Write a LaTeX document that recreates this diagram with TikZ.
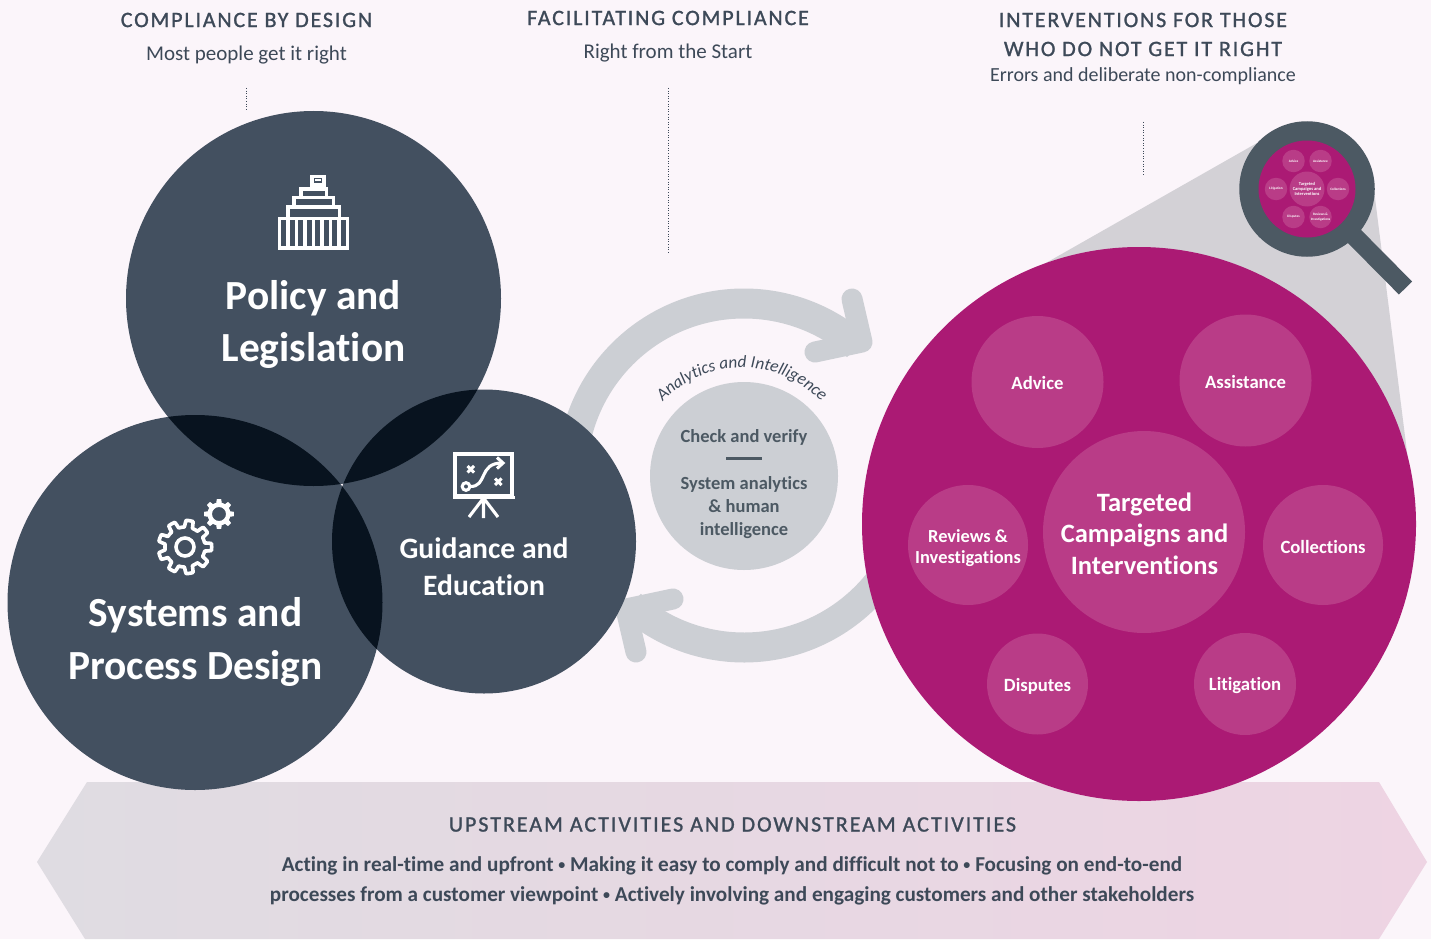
\documentclass[tikz,border=0pt]{standalone}
\usepackage{fontspec}
\setmainfont[Ligatures=NoCommon]{Carlito}
\usetikzlibrary{decorations.text}
\definecolor{bgc}{HTML}{FBF5FA}
\definecolor{slatec}{HTML}{435060}
\definecolor{darkc}{HTML}{08131F}
\definecolor{magc}{HTML}{AB1A74}
\definecolor{subc}{HTML}{B93C87}
\definecolor{ringc}{HTML}{CCCFD4}
\definecolor{conec}{HTML}{D3D1D6}
\definecolor{lensc}{HTML}{4C5963}
\definecolor{inkc}{HTML}{3D4958}
\definecolor{banl}{HTML}{DFDCE2}
\definecolor{banr}{HTML}{EED4E3}
\newcommand{\fs}[1]{\fontsize{#1}{#1}\selectfont}
\newcommand{\spaced}{\addfontfeature{LetterSpace=8.3,FakeBold=1.2}}
\newcommand{\bul}{\raisebox{1.6pt}{\fs{14}•}}
\tikzset{
  x=1pt,y=-1pt,
  disc/.style={circle,inner sep=0pt,minimum size=#1},
  darkdisc/.style={disc=#1,fill=slatec},
  subdisc/.style={disc=#1,fill=subc},
  minidisc/.style={disc=#1,fill=subc,text=white,font=\bfseries\fontsize{3.4}{4.2}\selectfont,align=center},
  head/.style={text=inkc,font=\fs{22}\spaced,inner sep=0pt,align=center},
  subhead/.style={text=inkc,font=\fs{21},inner sep=0pt},
  dotline/.style={draw=inkc,line width=0.9pt,dash pattern=on 1pt off 1.6pt},
  whitetitle/.style={text=white,font=\bfseries\fs{#1},inner sep=0pt,align=center},
  icon/.style={draw=white,line width=3.1pt,line join=miter},
  ringarc/.style={draw=ringc,line width=30pt},
  ringhead/.style={draw=ringc,line width=21pt,line cap=round,line join=round},
}
\begin{document}
\begin{tikzpicture}
\useasboundingbox (0,0) rectangle (1431,939);
\fill[bgc] (0,0) rectangle (1431,939);
% banner
\shade[left color=banl,right color=banr] (87,782) -- (1379,782) -- (1427,862) -- (1379,939) -- (85,939) -- (37,862) -- cycle;
% headings
\node[head] (h1) at (246.5,20) {COMPLIANCE BY DESIGN};
\node[subhead] (s1) at (246.5,55) {Most people get it right};
\node[head] (h2) at (668,18) {FACILITATING COMPLIANCE};
\node[subhead] (s2) at (668,53) {Right from the Start};
\node[head] (h3a) at (1143,20) {INTERVENTIONS FOR THOSE};
\node[head] (h3b) at (1143,49) {WHO DO NOT GET IT RIGHT};
\node[subhead,font=\fs{20}] (s3) at (1143,76.5) {Errors and deliberate non-compliance};
\coordinate (d1a) at (246,88); \coordinate (d1b) at (246,110);
\coordinate (d2a) at (668,88); \coordinate (d2b) at (668,253);
\coordinate (d3a) at (1143,122); \coordinate (d3b) at (1143,175);
\draw[dotline] (d1a) -- (d1b);
\draw[dotline] (d2a) -- (d2b);
\draw[dotline] (d3a) -- (d3b);
% cone
\fill[conec] (1257,143) -- (1030,272) -- (1408,460) -- (1374,190) -- cycle;
% ring arrows
\coordinate (rc) at (744,475.5);
\draw[ringarc] (rc) ++(-180:172) arc[start angle=-180,end angle=-49,radius=172];
\draw[ringarc] (rc) ++(131:172) arc[start angle=131,end angle=25,radius=172];
\draw[ringhead] (852,299) -- (862,342) -- (815,352);
\draw[ringhead] (636,652) -- (626,609) -- (673,599);
% centre disc
\node[disc=188,fill=ringc] (check) at (744,476) {};
\path[decorate,decoration={text along path,text align=center,
   text={|\fs{17.2}\itshape\color{inkc}|Analytics and Intelligence}}]
   (742,476) ++(-160:108.5) arc[start angle=-160,end angle=-20,radius=108.5];
\node[text=lensc,font=\bfseries\fs{18.5},inner sep=0pt] (cv) at (744,437) {Check and verify};
\draw[lensc,line width=2.2pt] (726,458.5) -- (762,458.5);
\node[text=lensc,inner sep=0pt,align=center,font=\bfseries\fontsize{18.5}{23}\selectfont] (sa) at (744,508) {System analytics\\\& human\\intelligence};
% dark discs
\node[darkdisc=375] (policy) at (313.5,298.5) {};
\node[darkdisc=375] (systems) at (195,602.5) {};
\node[darkdisc=304] (guidance) at (484,541.5) {};
\begin{scope}
  \clip (313.5,298.5) circle[radius=187.5];
  \fill[darkc] (195,602.5) circle[radius=187.5];
  \fill[darkc] (484,541.5) circle[radius=152];
\end{scope}
\begin{scope}
  \clip (195,602.5) circle[radius=187.5];
  \fill[darkc] (484,541.5) circle[radius=152];
\end{scope}
\node[whitetitle=40,font=\bfseries\fontsize{41.4}{52}\selectfont] (tp) at (313.5,324.5) {Policy and\\Legislation};
\node[whitetitle=40,font=\bfseries\fontsize{41.4}{53}\selectfont] (ts) at (195.5,642) {Systems and\\Process Design};
\node[whitetitle=30,font=\bfseries\fontsize{29.6}{37}\selectfont] (tg) at (484,566.5) {Guidance and\\Education};
% building icon
\begin{scope}[icon]
  \draw (279.5,218.5) rectangle (347.5,248);
  \foreach \i in {1,...,7} \draw (279.5+8.5*\i,218.5) -- (279.5+8.5*\i,248);
  \draw (288,218.5) -- (288,207) -- (339.5,207) -- (339.5,218.5);
  \draw (294,207) -- (294,197.5) -- (333.5,197.5) -- (333.5,207);
  \draw (301,197.5) -- (301,189) -- (326.5,189) -- (326.5,197.5);
  \draw (312,189) -- (312,176.5) -- (324,176.5) -- (324,185) -- (312,185);
  \draw[line width=1.4pt] (315,180) -- (321,180);
\end{scope}
% gears
\draw[icon,line width=3.6pt,line join=round] plot[domain=0:360,samples=289] ({185+(20+6.7*max(0,min(1,1.6*cos(9*\x)+0.4)))*cos(\x)},{547+(20+6.7*max(0,min(1,1.6*cos(9*\x)+0.4)))*sin(\x)}) -- cycle;
\draw[icon,line width=3.6pt] (185,547) circle[radius=9];
\fill[white,even odd rule] plot[domain=0:360,samples=193] ({219+(11.5+3.5*max(0,min(1,1.6*cos(8*\x)+0.4)))*cos(\x)},{514+(11.5+3.5*max(0,min(1,1.6*cos(8*\x)+0.4)))*sin(\x)}) -- cycle (219,514) circle[radius=7];
% board icon
\begin{scope}[icon]
  \draw (455,454) rectangle (512,496);
  \draw (453,497.5) -- (515,497.5);
  \draw (483.5,498) -- (469,517) (483.5,498) -- (498,517) (483.5,498) -- (483.5,518);
  \draw (466,486.5) circle[radius=3.8];
  \draw (470,486.5) .. controls (488,487) and (478,463) .. (502,463);
  \draw (497,457.5) -- (503,463) -- (497,468.5);
  \draw[line width=3pt] (467.5,466) -- (474,472.5) (474,466) -- (467.5,472.5);
  \draw[line width=3pt] (495,478.5) -- (501.5,485) (501.5,478.5) -- (495,485);
\end{scope}
% magenta disc
\node[disc=554,fill=magc] (campaign) at (1139,524) {};
\node[subdisc=132] (adv) at (1037.5,382) {};
\node[subdisc=132] (ass) at (1245.5,380.5) {};
\node[subdisc=202] (tc) at (1144,532) {};
\node[subdisc=120] (rev) at (968,545) {};
\node[subdisc=120] (col) at (1323,545) {};
\node[subdisc=101] (dis) at (1037.5,684) {};
\node[subdisc=102] (lit) at (1245,684) {};
\node[whitetitle=18.7] (tadv) at (1037.5,383) {Advice};
\node[whitetitle=18.7] (tass) at (1245.5,382) {Assistance};
\node[whitetitle=27,font=\bfseries\fontsize{26.5}{31.5}\selectfont] at (1144.5,533.5) (ttc) {Targeted\\Campaigns and\\Interventions};
\node[whitetitle=18,font=\bfseries\fontsize{18.4}{21}\selectfont] (trev) at (968,548) {Reviews \&\\Investigations};
\node[whitetitle=18.7] (tcol) at (1323,547) {Collections};
\node[whitetitle=18.7] (tdis) at (1037.5,686) {Disputes};
\node[whitetitle=18.7] (tlit) at (1245,686) {Litigation};
% magnifier
\draw[lensc,line width=18.5pt] (1354,236) -- (1405.5,288);
\node[disc=135.5,fill=lensc] (lens) at (1307,189) {};
\node[disc=97,fill=magc] (glass) at (1307,189) {};
\node[minidisc=22.5] at (1293.5,161) (m1) {Advice};
\node[minidisc=22.5] at (1320.5,161) (m2) {Assistance};
\node[minidisc=35,font=\bfseries\fontsize{4.5}{5.3}\selectfont] at (1307,189) (m3) {Targeted\\Campaigns and\\Interventions};
\node[minidisc=22.5] at (1276,189) (m4) {Litigation};
\node[minidisc=22.5] at (1338,189) (m5) {Collections};
\node[minidisc=22.5] at (1293.5,217) (m6) {Disputes};
\node[minidisc=22.5] at (1320.5,217) (m7) {Reviews \&\\Investigations};
% banner text
\node[head,font=\fs{22}\addfontfeature{LetterSpace=9,FakeBold=1.2}] (bh) at (732.5,824.5) {UPSTREAM ACTIVITIES AND DOWNSTREAM ACTIVITIES};
\node[text=inkc,inner sep=0pt,align=center,font=\bfseries\fontsize{21.2}{30}\selectfont] (bt) at (732,880.5) {Acting in real-time and upfront \bul{} Making it easy to comply and difficult not to \bul{} Focusing on end-to-end\\processes from a customer viewpoint \bul{} Actively involving and engaging customers and other stakeholders};
\end{tikzpicture}
\end{document}
